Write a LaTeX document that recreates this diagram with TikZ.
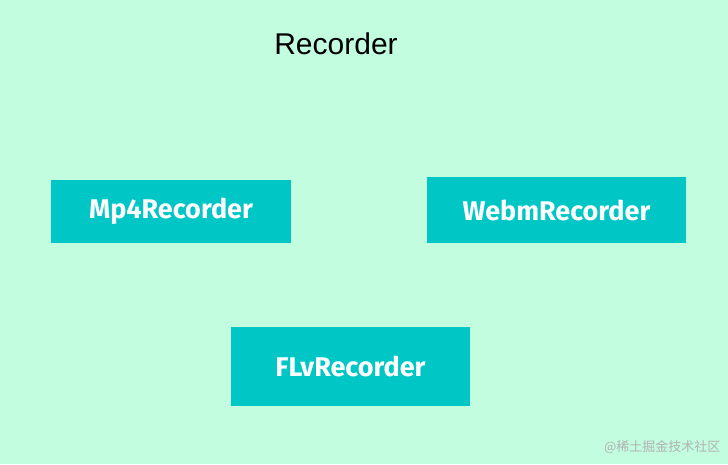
\documentclass[tikz,border=0pt]{standalone}
\usepackage{fontspec}
\setmainfont{Liberation Sans}
\newfontfamily\boxfont{Fira Sans}
\newfontfamily\cjk{Noto Sans CJK SC}
\definecolor{bg}{HTML}{C2FDE0}
\definecolor{teal}{HTML}{00C6C6}
\begin{document}
\begin{tikzpicture}[x=1pt,y=-1pt,
  box/.style={fill=teal,draw=none,inner sep=0pt,text=white,font=\boxfont\bfseries\fontsize{27}{30}\selectfont}]
\fill[bg] (0,0) rectangle (728,464);
\useasboundingbox (0,0) rectangle (728,464);
\node[font=\fontsize{30}{34}\selectfont] (title) at (336,44) {Recorder};
\node[box,minimum width=240pt,minimum height=63pt] (mp4) at (171,211.5) {Mp4Recorder};
\node[box,minimum width=259pt,minimum height=66pt] (webm) at (556.5,210) {WebmRecorder};
\node[box,minimum width=239pt,minimum height=79pt] (flv) at (350.5,366.5) {FLvRecorder};
\node[text=gray!60,font=\cjk\fontsize{13}{15}\selectfont,anchor=east] (wm) at (724,447) {@稀土掘金技术社区};
\end{tikzpicture}
\end{document}
